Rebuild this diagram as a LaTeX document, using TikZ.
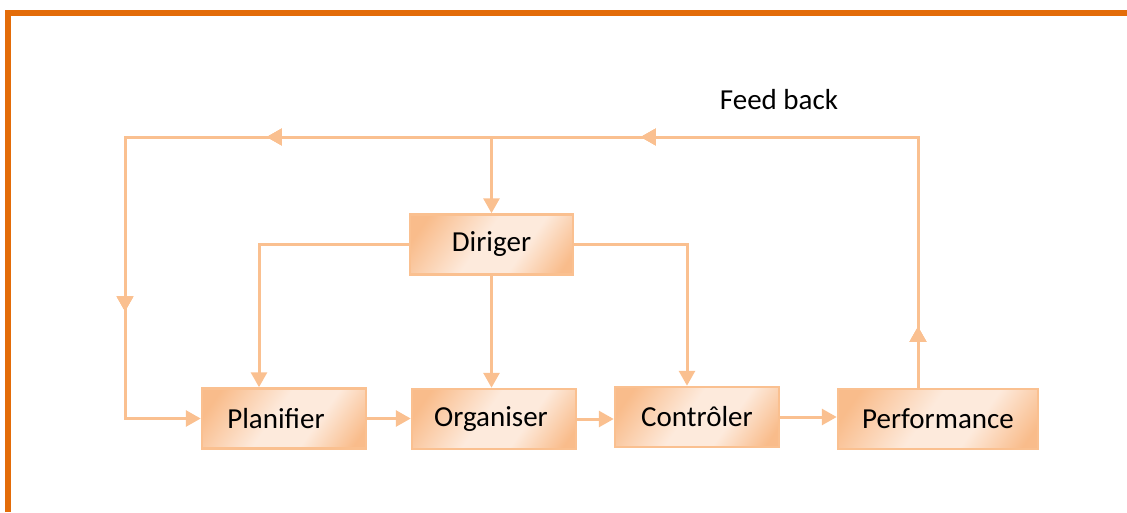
\documentclass[tikz,border=0pt]{standalone}
\usepackage{fontspec}
\setmainfont{Carlito}
\usetikzlibrary{arrows.meta,decorations.markings}

\definecolor{frame}{HTML}{E36C09}
\definecolor{link}{HTML}{FAC090}
\definecolor{boxdark}{HTML}{F9BC8B}
\definecolor{boxlight}{HTML}{FDEADC}

\pgfdeclarehorizontalshading{boxshade}{100bp}{%
  color(0bp)=(boxdark); color(22bp)=(boxdark); color(46bp)=(boxlight);
  color(62bp)=(boxlight); color(80bp)=(boxdark); color(100bp)=(boxdark)}

\tikzset{
  stepbox/.style={draw=link, line width=2.5pt, shading=boxshade, shading angle=-35,
    minimum height=60pt, inner sep=0pt, font=\fontsize{29}{34}\selectfont},
  link/.style={draw=link, line width=3pt},
  tip/.style={-{Triangle[length=15pt,width=16pt]}},
  midtip/.style={postaction={decorate}, decoration={markings,
    mark=at position #1 with {\arrow{Triangle[length=15pt,width=16pt]}}}},
}

\begin{document}
\begin{tikzpicture}[x=1pt,y=-1pt]
  \useasboundingbox (0,0) rectangle (1127,512);

  % outer frame (top and left edges)
  \draw[frame, line width=6pt] (8,512) -- (8,12.5) -- (1127,12.5);

  % steps
  \node[stepbox, minimum width=163pt] (dir) at (491.5,244.5) {Diriger};
  \node[stepbox, minimum width=164pt] (pla) at (284,418.5) {\hspace*{-16pt}Planifier};
  \node[stepbox, minimum width=164pt] (org) at (494,419) {\hspace*{-6pt}Organiser};
  \node[stepbox, minimum width=164pt] (con) at (697,417) {Contrôler};
  \node[stepbox, minimum width=200pt] (per) at (938,419) {Performance};

  \node[font=\fontsize{29}{34}\selectfont] (fbl) at (779,100) {Feed back};

  % corners of the feedback loop
  \coordinate (fbR) at (918,137);
  \coordinate (fbL) at (125,137);
  \coordinate (plx) at (259,0);
  \coordinate (cox) at (687,0);

  % feedback loop
  \draw[link, tip, midtip=61pt, midtip=528pt, midtip=902pt, midtip=1218pt]
    (fbR |- per.north) -- (fbR) -- (fbL) -- (fbL |- pla.west) -- (pla.west);

  % feedback into Diriger
  \draw[link, tip] (dir.north |- fbR) -- (dir.north);

  % Diriger to the three steps
  \draw[link, tip] (dir.west) -| (plx |- pla.north);
  \draw[link, tip] (dir.south) -- (dir.south |- org.north);
  \draw[link, tip] (dir.east) -| (cox |- con.north);

  % main chain
  \draw[link, tip] (pla.east) -- (pla.east -| org.west);
  \draw[link, tip] (org.east) -- (org.east -| con.west);
  \draw[link, tip] (con.east) -- (con.east -| per.west);
\end{tikzpicture}
\end{document}
